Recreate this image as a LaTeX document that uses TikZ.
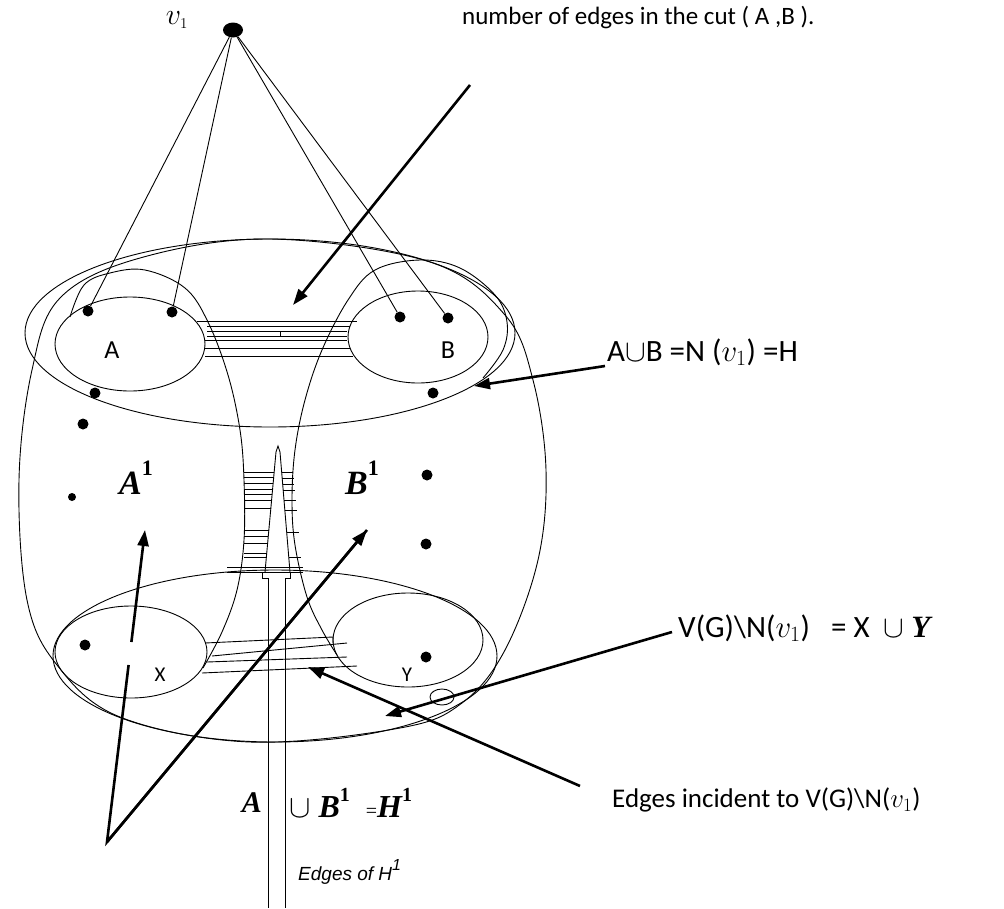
\documentclass[tikz,border=0pt]{standalone}
\usepackage{fix-cm}
\usepackage{fontspec}
\setsansfont{Carlito}
\newfontfamily\arialf{Liberation Sans}
\newfontfamily\timesf{Liberation Serif}
\usetikzlibrary{arrows.meta,shapes.geometric}
\begin{document}
\begin{tikzpicture}[x=1pt,y=-1pt,
  thinline/.style={line width=0.9pt},
  bigarrow/.style={line width=2.6pt,-{Triangle[length=16pt,width=11pt]}},
  bigline/.style={line width=2.6pt},
  dot/.style={circle,fill=black,inner sep=0pt,minimum size=11pt},
  smalldot/.style={circle,fill=black,inner sep=0pt,minimum size=8pt},
  lab/.style={font=\sffamily\fontsize{26}{30}\selectfont,inner sep=0pt},
  rlab/.style={font=\sffamily\fontsize{31}{35}\selectfont,inner sep=0pt,anchor=west},
  bigit/.style={font=\timesf\bfseries\itshape\fontsize{34}{38}\selectfont,inner sep=0pt}
]
\useasboundingbox (0,0) rectangle (1004,908);
\fill[white] (0,0) rectangle (1004,908);

% ---- big outer barrel
\draw[thinline] plot[smooth cycle, tension=0.6] coordinates {(270,239) (140,258) (60,298) (32,370) (19,480) (27,600) (57,665) (120,717) (250,742) (400,728) (462,703) (505,650) (538,560) (546,470) (533,380) (505,315) (430,262)};

% ---- ellipse H and inner ellipses
\draw[thinline] (270,333) ellipse [x radius=245pt, y radius=94pt];
\draw[thinline] (130,344) ellipse [x radius=75pt, y radius=47pt];
\draw[thinline] (418,337) ellipse [x radius=70pt, y radius=46pt];
% lower ellipses
\draw[thinline] (275,656) ellipse [x radius=222pt, y radius=86pt];
\draw[thinline] (131,652) ellipse [x radius=76pt, y radius=46pt];
\draw[thinline] (408,640) ellipse [x radius=75pt, y radius=47pt];
\draw[thinline] (442,697) ellipse [x radius=12pt, y radius=8pt];

% ---- loop around A into left funnel
\draw[thinline] plot[smooth, tension=0.6] coordinates {(70,317) (84,285) (110,273) (145,270) (185,288) (208,322) (228,375) (240,430) (244,480) (244,540) (237,590) (222,632) (203,668)};
% ---- loop around B into right funnel
\draw[thinline] plot[smooth, tension=0.6] coordinates {(483,378) (503,350) (507,322) (495,295) (460,268) (420,260) (375,270) (348,300) (322,350) (305,400) (295,450) (292,500) (295,545) (307,597) (322,630) (337,655)};

% ---- edges of the cut (A,B)
\foreach \ya/\xa/\xb in {321/197/357, 326/207/350, 331/207/347, 336/207/347, 340/205/347, 348/205/350, 356/205/353}
  \draw[thinline] (\xa,\ya) -- (\xb,\ya);
\draw[thinline] (280,331) -- (280,337);

% ---- spike in the funnel
\draw[thinline] (276,452) -- (278,446) -- (280,452);
\draw[thinline] (276,452) -- (265,572);
\draw[thinline] (280,452) -- (290,572);
\foreach \yy in {472,477,483,489,494,500,508,530,536,543,553,557}
  \draw[thinline] (244,\yy) -- ({276-(\yy-450)*0.09},\yy);
\foreach \yy in {472,478,484,490,500,510,532,557}
  \draw[thinline] ({280+(\yy-450)*0.082},\yy) -- ({293+(\yy-470)*0.09},\yy);
\draw[thinline] (227,567) -- (303,567);
\draw[thinline] (227,572) -- (303,572);

% ---- tube of edges of H^1
\draw[thinline] (262,572) -- (262,578) -- (268,578) -- (268,908);
\draw[thinline] (290,572) -- (290,578) -- (285,578) -- (285,908);

% ---- edges incident to V(G)\N(v1)
\draw[thinline] (205,643) -- (333,637) -- (333,643);
\draw[thinline] (212,656) -- (347,643);
\draw[thinline] (207,662) -- (347,657);
\draw[thinline] (202,673) -- (357,666);

% ---- vertices
\node[ellipse,fill=black,inner sep=0pt,minimum width=20pt,minimum height=15pt] (v1) at (233,30) {};
\node[dot] (a1) at (88,311) {};
\node[dot] (a2) at (172,312) {};
\node[dot] (b1) at (400,317) {};
\node[dot] (b2) at (448,318) {};
\node[dot] (h1) at (95,393) {};
\node[dot] (h2) at (433,393) {};
\node[dot] (p1) at (83,424) {};
\node[smalldot] (p2) at (72,497) {};
\node[dot] (q1) at (427,475) {};
\node[dot] (q2) at (426,544) {};
\node[dot] (y1) at (426,657) {};
\node[dot] (x1) at (85,645) {};

\draw[thinline] (v1) -- (a1);
\draw[thinline] (v1) -- (a2);
\draw[thinline] (v1) -- (b1);
\draw[thinline] (v1) -- (b2);

% ---- labels inside
\node[font=\fontsize{30}{34}\selectfont,inner sep=0pt] (lv1) at (177,20) {$v_{\scriptscriptstyle 1}$};
\node[lab] (lA) at (112,350) {A};
\node[lab] (lB) at (448,350) {B};
\node[lab,font=\sffamily\fontsize{21}{24}\selectfont] (lX) at (160,675) {X};
\node[lab,font=\sffamily\fontsize{21}{24}\selectfont] (lY) at (407,675) {Y};
\node[bigit] (lA1) at (136,478) {A\raisebox{0.55em}{\upshape\fontsize{22}{24}\selectfont 1}};
\node[bigit] (lB1) at (362,478) {B\raisebox{0.55em}{\upshape\fontsize{22}{24}\selectfont 1}};

% ---- right and top labels
\node[lab,anchor=west,font=\sffamily\fontsize{25}{29}\selectfont] (tcut) at (462,18) {number of edges in the cut ( A ,B ).};
\node[rlab] (tH) at (607,352) {A$\cup$B\ =N\ ($v_1$)\ =H};
\node[rlab] (tXY) at (678,628) {V(G)\textbackslash N($v_1$)\ \ \ = X\ \ $\cup$ {\timesf\bfseries\itshape Y}};
\node[lab,anchor=west,font=\sffamily\fontsize{27}{31}\selectfont] (tinc) at (612,800) {Edges incident to V(G)\textbackslash N($v_1$)};
\node[bigit,font=\timesf\bfseries\itshape\fontsize{30}{34}\selectfont] (tA) at (252,803) {A};
\node[bigit,anchor=west,font=\timesf\bfseries\itshape\fontsize{32}{36}\selectfont] (tBH) at (289,803) {{\upshape\mdseries$\cup$} B\raisebox{0.5em}{\upshape\fontsize{20}{22}\selectfont 1}\ \ {\upshape\mdseries\fontsize{20}{22}\selectfont =}H\raisebox{0.5em}{\upshape\fontsize{20}{22}\selectfont 1}};
\node[anchor=west,inner sep=0pt,font=\arialf\itshape\fontsize{19}{22}\selectfont] (tE) at (298,872) {Edges of H\raisebox{0.5em}{\fontsize{16}{18}\selectfont 1}};

% ---- arrows
\coordinate (c1s) at (470,85);   \coordinate (c1t) at (293,305);
\coordinate (c2s) at (605,366);  \coordinate (c2t) at (474,386);
\coordinate (c3s) at (672,632);  \coordinate (c3t) at (385,716);
\coordinate (c4s) at (580,786);  \coordinate (c4t) at (308,667);
\coordinate (apex) at (107,842);
\coordinate (g1) at (128.6,665); \coordinate (g2) at (131.4,642);
\coordinate (c5t) at (145,530);
\coordinate (c6t) at (367,530);
\draw[bigarrow] (c1s) -- (c1t);
\draw[bigarrow] (c2s) -- (c2t);
\draw[bigarrow] (c3s) -- (c3t);
\draw[bigarrow] (c4s) -- (c4t);
\draw[bigline,line join=miter] (g1) -- (apex) -- (c6t);
\draw[bigarrow] (apex) -- (c6t);
\draw[bigarrow] (g2) -- (c5t);
\end{tikzpicture}
\end{document}
